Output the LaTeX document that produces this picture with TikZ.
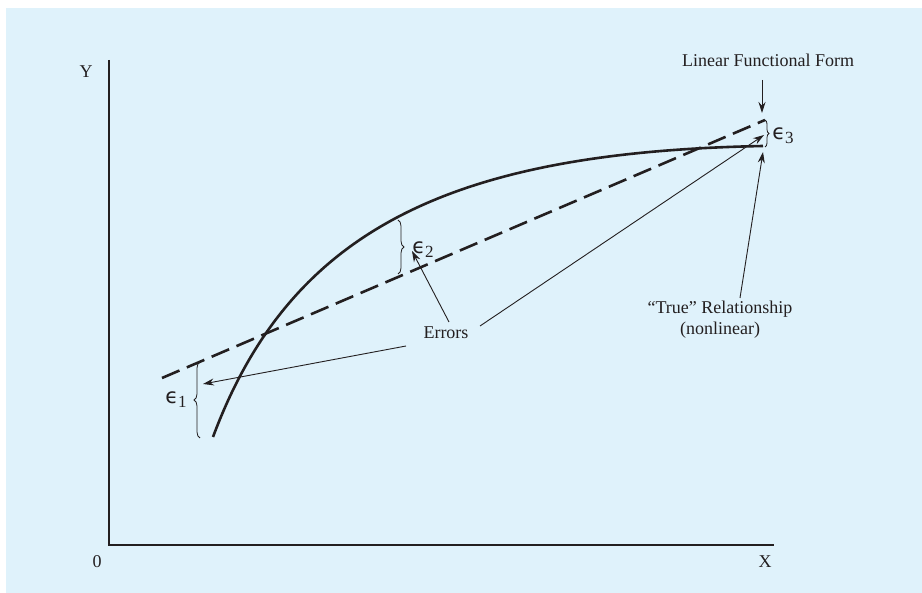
\documentclass[tikz,border=0pt]{standalone}
\usepackage{fontspec}
\setmainfont{Liberation Serif}
\newfontfamily\epsfont{DejaVu Sans}
\usetikzlibrary{arrows.meta,decorations.pathreplacing}
\definecolor{bgblue}{RGB}{223,242,251}
\definecolor{ink}{RGB}{35,31,32}
\newcommand{\epslab}[1]{{\epsfont\fontsize{21}{23}\selectfont ϵ}\raisebox{-4pt}{\fontsize{17}{19}\selectfont #1}}
\begin{document}
\begin{tikzpicture}[x=1pt,y=-1pt,
  lbl/.style={font=\fontsize{18}{21}\selectfont, text=ink, inner sep=0pt},
  eps/.style={text=ink, inner sep=0pt},
  axis/.style={draw=ink, line width=1.3pt},
  curveline/.style={draw=ink, line width=2.6pt},
  dashline/.style={draw=ink, line width=2.6pt, dash pattern=on 19pt off 8pt},
  ptr/.style={draw=ink, line width=0.9pt, -{Stealth[length=11pt,width=7pt]}},
  brc/.style={draw=ink, line width=0.8pt, decorate, decoration={brace, amplitude=6pt}}]
\useasboundingbox (0,0) rectangle (922,593);
\fill[bgblue] (6,8) rectangle (922,593);
% axes
\coordinate (O) at (109,545);
\coordinate (Ytop) at (109,60);
\coordinate (Xend) at (774,545);
\draw[axis] (Ytop) -- (O) -- (Xend);
\node[lbl] (ylab) at (86,72) {Y};
\node[lbl] (zero) at (97,562) {0};
\node[lbl] (xlab) at (765,562) {X};
% linear form (dashed)
\coordinate (L1) at (162,378);
\coordinate (L2) at (765,120);
\draw[dashline] (L1) -- (L2);
% true relationship (curve)
\coordinate (C1) at (213,437);
\coordinate (C2) at (763,146);
\draw[curveline] (C1) .. controls (290,230) and (450,152) .. (C2);
% braces
\coordinate (b1a) at (200,438);
\coordinate (b1b) at (200,362);
\draw[brc] (b1a) -- (b1b);
\coordinate (b2a) at (398,220);
\coordinate (b2b) at (398,274);
\draw[brc] (b2a) -- (b2b);
\coordinate (b3a) at (765,120);
\coordinate (b3b) at (765,147);
\draw[brc, decoration={brace, amplitude=4pt}] (b3a) -- (b3b);
% epsilon labels
\node[eps] (e1) at (176,400) {\epslab{1}};
\node[eps] (e2) at (423,250) {\epslab{2}};
\node[eps] (e3) at (783,136) {\epslab{3}};
% texts
\node[lbl] (lff) at (768,60) {Linear Functional Form};
\node[lbl] (err) at (446,333) {Errors};
\node[lbl, align=center] (true) at (720,320) {“True” Relationship\\(nonlinear)};
% arrow targets
\coordinate (t1) at (203,384);
\coordinate (t2) at (412,251);
\coordinate (t3) at (764,135);
\coordinate (t4) at (763,152);
\coordinate (t5) at (762,113);
\coordinate (s1) at (406,346);
\coordinate (s2) at (449,322);
\coordinate (s3) at (480,326);
\coordinate (s4) at (740,298);
\coordinate (s5) at (762,80);
\draw[ptr] (s1) -- (t1);
\draw[ptr] (s2) -- (t2);
\draw[ptr] (s3) -- (t3);
\draw[ptr] (s4) -- (t4);
\draw[ptr] (s5) -- (t5);
\end{tikzpicture}
\end{document}
